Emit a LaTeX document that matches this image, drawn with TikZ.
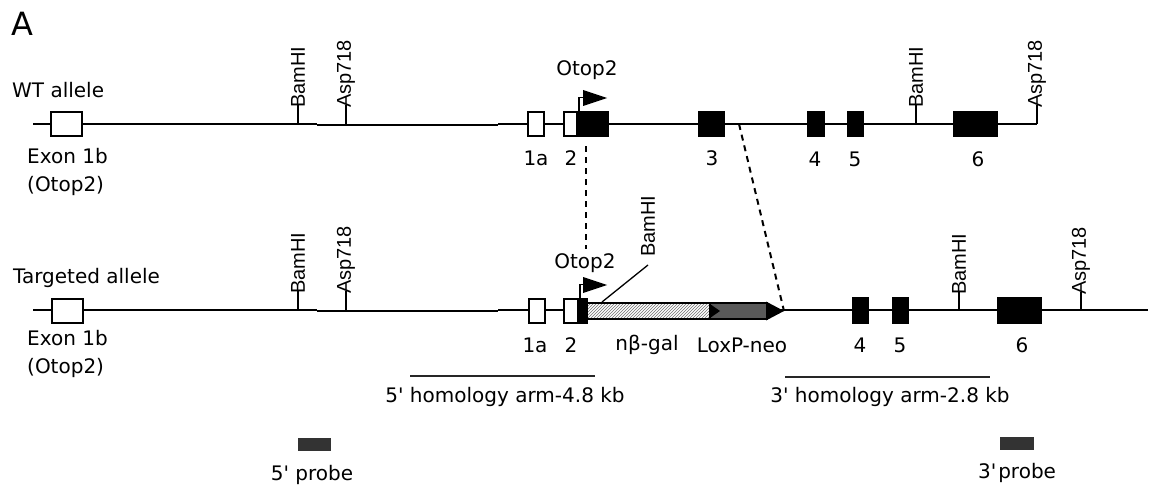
\documentclass[tikz,border=0pt]{standalone}
\usepackage{fontspec}
\setmainfont{DejaVu Sans}
\newfontfamily\arialf{Liberation Sans}
\usetikzlibrary{patterns}
\newcommand\myprime{\textquotesingle}
\begin{document}
\begin{tikzpicture}[x=1pt,y=-1pt,
  gline/.style={line width=2pt},
  tickline/.style={line width=1.7pt},
  openex/.style={draw,line width=1.8pt,fill=white},
  fullex/.style={draw,line width=1.2pt,fill=black},
  lbl/.style={font=\fontsize{20}{24}\selectfont,inner sep=0pt},
  site/.style={font=\arialf\fontsize{20}{24}\selectfont,rotate=90,anchor=west,inner sep=0pt},
  dashln/.style={line width=2pt,dash pattern=on 6pt off 5pt},
  armline/.style={line width=1.1pt,black!85},
  probe/.style={fill=black!80,draw=none},
  flag/.style={fill=black,draw=none}]
\useasboundingbox (0,0) rectangle (1150,492);

\node[font=\fontsize{32}{36}\selectfont,inner sep=0pt] (A) at (22,24) {A};

% ================= WT allele =================
\node[lbl,anchor=west] (wtlbl) at (12,90) {WT allele};
\draw[gline] (33,124) -- (317,124);
\draw[gline] (317,125.2) -- (498,125.2);
\draw[gline] (498,124) -- (1037,124);

\draw[openex] (51,112) rectangle (82,136);
\node[lbl,anchor=north west,align=left] (wtex1b) at (27,148) {Exon 1b\\[4pt](Otop2)};

\coordinate (wtB1) at (298,124);
\draw[tickline] (wtB1) -- ++(0,-19) coordinate (wtB1t);
\node[site] (wtB1l) at ([yshift=-3]wtB1t) {BamHI};
\coordinate (wtA1) at (346,124);
\draw[tickline] (wtA1) -- ++(0,-19) coordinate (wtA1t);
\node[site] (wtA1l) at ([yshift=-3]wtA1t) {Asp718};

\draw[openex] (528,112) rectangle (544,136);
\draw[openex] (564,112) rectangle (577,136);
\draw[fullex] (577,112) rectangle (608,136);
\draw[line width=1.3pt] (579,112) -- (579,97.5) -- (584,97.5);
\draw[flag] (583,90) -- (607,98) -- (583,106) -- cycle;
\node[lbl] (wtotop) at (587,70) {Otop2};

\draw[fullex] (699,112) rectangle (724,136);
\draw[fullex] (808,112) rectangle (824,136);
\draw[fullex] (848,112) rectangle (863,136);
\coordinate (wtB2) at (916,124);
\draw[tickline] (wtB2) -- ++(0,-19) coordinate (wtB2t);
\node[site] (wtB2l) at ([yshift=-3]wtB2t) {BamHI};
\draw[fullex] (954,112) rectangle (997,136);
\coordinate (wtA2) at (1037,124);
\draw[tickline] (wtA2) -- ++(0,-19) coordinate (wtA2t);
\node[site] (wtA2l) at ([yshift=-3]wtA2t) {Asp718};

\node[lbl] (w1a) at (536,158) {1a};
\node[lbl] (w2) at (571,158) {2};
\node[lbl] (w3) at (712,158) {3};
\node[lbl] (w4) at (815,159) {4};
\node[lbl] (w5) at (855,159) {5};
\node[lbl] (w6) at (978,159) {6};

% ================= Targeted allele =================
\node[lbl,anchor=west] (tglbl) at (13,278) {Targeted allele};
\draw[gline] (33,310) -- (317,310);
\draw[gline] (317,311.3) -- (498,311.3);
\draw[gline] (498,310) -- (1148,310);

\draw[openex] (52,299) rectangle (83,323);
\node[lbl,anchor=north west,align=left] (tgex1b) at (27,330) {Exon 1b\\[4pt](Otop2)};

\coordinate (tgB1) at (298,310);
\draw[tickline] (tgB1) -- ++(0,-19) coordinate (tgB1t);
\node[site] (tgB1l) at ([yshift=-3]tgB1t) {BamHI};
\coordinate (tgA1) at (346,310);
\draw[tickline] (tgA1) -- ++(0,-19) coordinate (tgA1t);
\node[site] (tgA1l) at ([yshift=-3]tgA1t) {Asp718};

\draw[openex] (529,299) rectangle (545,323);
\draw[openex] (564,299) rectangle (578,323);
\draw[fullex] (578,299) rectangle (587,323);
\draw[line width=1.3pt] (580,299) -- (580,284.5) -- (584,284.5);
\draw[flag] (583,277) -- (607,285) -- (583,293) -- cycle;
\node[lbl] (tgotop) at (585,263) {Otop2};

% nbeta-gal (hatched) and LoxP-neo
\draw[line width=1.8pt,preaction={fill=white},pattern=north east lines,pattern color=black!55] (587,303) rectangle (710,319);
\draw[line width=1.8pt,fill=black!65] (710,303) rectangle (767,319);
\draw[flag] (710,304) -- (720,311) -- (710,318) -- cycle;
\draw[flag] (766,301.5) -- (784,311) -- (766,320.5) -- cycle;
\coordinate (neotip) at (784,311);

% BamHI in the cassette
\coordinate (cB) at (602,302);
\coordinate (cBt) at (648,265);
\draw[line width=1.3pt] (cB) -- (cBt);
\node[site] (cBl) at (648,257) {BamHI};

\draw[fullex] (853,298) rectangle (868,323);
\draw[fullex] (893,298) rectangle (908,323);
\coordinate (tgB2) at (959,310);
\draw[tickline] (tgB2) -- ++(0,-18) coordinate (tgB2t);
\node[site] (tgB2l) at ([yshift=-3]tgB2t) {BamHI};
\draw[fullex] (998,298) rectangle (1041,323);
\coordinate (tgA2) at (1081,310);
\draw[tickline] (tgA2) -- ++(0,-18) coordinate (tgA2t);
\node[site] (tgA2l) at ([yshift=-3]tgA2t) {Asp718};

\node[lbl] (t1a) at (535,345) {1a};
\node[lbl] (t2) at (571,345) {2};
\node[lbl] (tgal) at (647,345) {nβ-gal};
\node[lbl] (tneo) at (742,345) {LoxP-neo};
\node[lbl] (t4) at (860,345) {4};
\node[lbl] (t5) at (900,345) {5};
\node[lbl] (t6) at (1022,345) {6};

% dashed correspondences
\coordinate (d1a) at (586,146);
\coordinate (d1b) at (586,249);
\draw[dashln] (d1a) -- (d1b);
\coordinate (d2a) at (739,124);
\draw[dashln] (d2a) -- (neotip);

% homology arms
\coordinate (h5a) at (410,376);
\coordinate (h5b) at (595,376);
\draw[armline] (h5a) -- (h5b);
\node[lbl] (h5l) at (505,397) {5\myprime{} homology arm-4.8 kb};
\coordinate (h3a) at (785,377);
\coordinate (h3b) at (990,377);
\draw[armline] (h3a) -- (h3b);
\node[lbl] (h3l) at (890,397) {3\myprime{} homology arm-2.8 kb};

% probes
\node[probe,minimum width=33pt,minimum height=13pt,inner sep=0pt] (p5) at (314.5,444.5) {};
\node[lbl] (p5l) at (312,475) {5\myprime{} probe};
\node[probe,minimum width=34pt,minimum height=13pt,inner sep=0pt] (p3) at (1017,443.5) {};
\node[lbl] (p3l) at (1017,473) {3\myprime\kern2pt probe};
\end{tikzpicture}
\end{document}
